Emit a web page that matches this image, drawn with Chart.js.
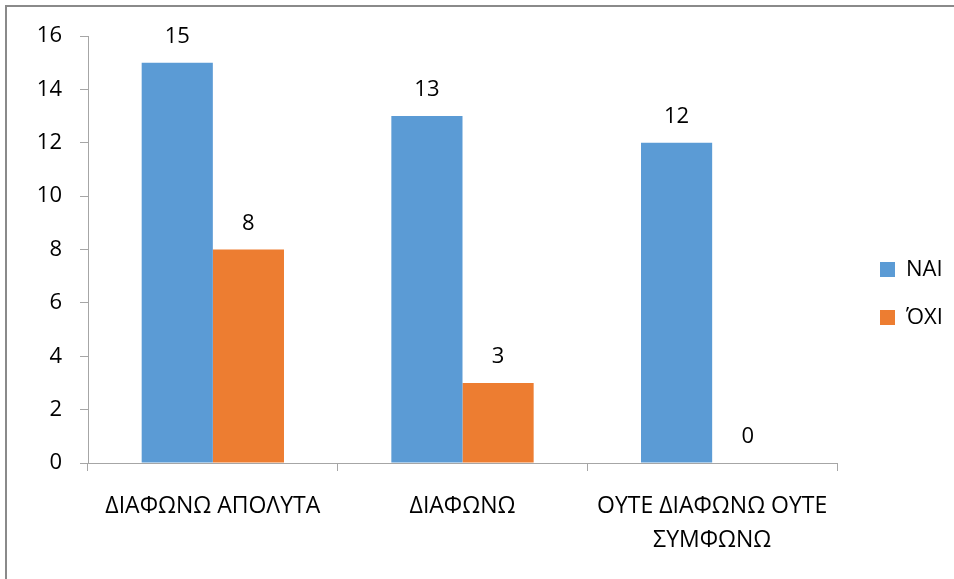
<!DOCTYPE html>
<html>
<head>
<meta charset="utf-8">
<script src="https://cdn.jsdelivr.net/npm/chart.js@4.4.1/dist/chart.umd.min.js"></script>
<style>
  html, body { margin: 0; padding: 0; background: #fff; overflow: hidden; }
  #frame {
    position: absolute; left: 5px; top: 5px; width: 1000px; height: 700px;
    border: 2px solid #8a8a8a; pointer-events: none;
  }
  canvas { position: absolute; left: 0; top: 0; }
</style>
</head>
<body>
<canvas id="answersChart" width="954" height="579"></canvas>
<div id="frame"></div>
<script>
/* ===================== DATA ===================== */
const categories = [
  "ΔΙΑΦΩΝΩ ΑΠΟΛΥΤΑ",
  "ΔΙΑΦΩΝΩ",
  ["ΟΥΤΕ ΔΙΑΦΩΝΩ ΟΥΤΕ", "ΣΥΜΦΩΝΩ"]
];
const yesValues = [15, 13, 12];
const noValues = [8, 3, 0];
const seriesNames = ["NAI", "ΌΧΙ"];

/* ===================== STYLE ===================== */
const FONT = "'Open Sans', 'Noto Sans', sans-serif";
const FONT_SIZE = 22;
const AXIS_COLOR = "#a6a6a6";
const LEGEND_WIDTH = 117;

/* -------- value labels above each bar -------- */
const barValues = {
  id: "barValues",
  afterDatasetsDraw(chart) {
    const ctx = chart.ctx;
    ctx.save();
    ctx.font = FONT_SIZE + "px " + FONT;
    ctx.fillStyle = "#000";
    ctx.textAlign = "center";
    ctx.textBaseline = "middle";
    chart.data.datasets.forEach((ds, i) => {
      chart.getDatasetMeta(i).data.forEach((bar, j) => {
        ctx.fillText(String(ds.data[j]), bar.x, bar.y - 26);
      });
    });
    ctx.restore();
  }
};

/* -------- fixed-width legend column, items pushed right -------- */
const legendBox = {
  id: "legendBox",
  beforeLayout(chart) {
    const lg = chart.legend;
    if (lg && !lg._fixedFit) {
      const fit = lg.fit.bind(lg);
      lg.fit = function () { fit(); this.width = LEGEND_WIDTH; };
      lg._fixedFit = true;
    }
  },
  afterLayout(chart) {
    const lg = chart.legend;
    lg.left += 17; lg.right += 17;
    lg.top -= 14; lg.bottom -= 14;
  }
};

new Chart(document.getElementById("answersChart"), {
  type: "bar",
  data: {
    labels: categories,
    datasets: [
      { label: seriesNames[0], data: yesValues, backgroundColor: "#5b9bd5" },
      { label: seriesNames[1], data: noValues, backgroundColor: "#ed7d31" }
    ]
  },
  options: {
    responsive: false,
    animation: false,
    layout: { padding: { top: 36, right: 0, bottom: 0, left: 0 } },
    datasets: { bar: { categoryPercentage: 0.57, barPercentage: 1.0 } },
    plugins: {
      tooltip: { enabled: false },
      legend: {
        position: "right",
        labels: {
          boxWidth: 15, boxHeight: 15, padding: 26,
          color: "#000", font: { family: FONT, size: FONT_SIZE }
        }
      }
    },
    scales: {
      x: {
        afterFit: s => { s.height = 116; },
        border: { display: true, color: AXIS_COLOR, width: 1 },
        grid: { drawOnChartArea: false, drawTicks: true, tickLength: 8, color: AXIS_COLOR },
        ticks: { color: "#000", padding: 19, maxRotation: 0, font: { family: FONT, size: 23, lineHeight: 1.45 } }
      },
      y: {
        min: 0, max: 16,
        afterFit: s => { s.width = 88; },
        border: { display: true, color: AXIS_COLOR, width: 1 },
        grid: { drawOnChartArea: false, drawTicks: true, tickLength: 8, color: AXIS_COLOR },
        ticks: { stepSize: 2, color: "#000", padding: 18, font: { family: FONT, size: FONT_SIZE } }
      }
    }
  },
  plugins: [barValues, legendBox]
});
</script>
</body>
</html>
